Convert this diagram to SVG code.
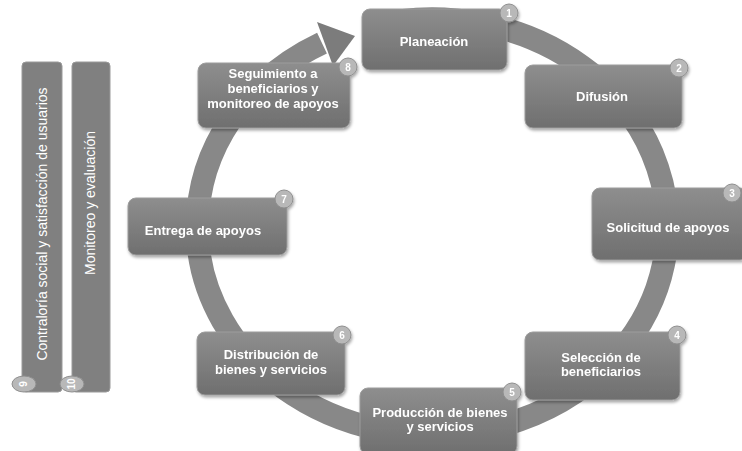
<svg xmlns="http://www.w3.org/2000/svg" width="742" height="451" viewBox="0 0 742 451">
<style>
.box{fill:url(#bg);stroke:#9c9c9c;stroke-width:1}
.t{font-family:"Liberation Sans",Arial,sans-serif;font-weight:bold;font-size:13px;fill:#ffffff;text-anchor:middle}
.ct{font-family:"Liberation Sans",Arial,sans-serif;font-size:14px;fill:#ffffff;text-anchor:middle}
.bd{fill:#b8b8b8;stroke:#8f8f8f;stroke-width:1}
.bt{font-family:"Liberation Sans",Arial,sans-serif;font-weight:bold;font-size:10px;fill:#ffffff;text-anchor:middle}
.col{fill:#808080;stroke:#9a9a9a;stroke-width:1}
</style>
<defs>
<linearGradient id="bg" x1="0" y1="0" x2="0" y2="1">
<stop offset="0" stop-color="#8e8e8e"/>
<stop offset="1" stop-color="#6f6f6f"/>
</linearGradient>
<filter id="sh" x="-10%" y="-10%" width="130%" height="140%">
<feDropShadow dx="1" dy="2" stdDeviation="1.5" flood-color="#000" flood-opacity="0.35"/>
</filter>
</defs>
<rect width="742" height="451" fill="#ffffff"/>

<g id="col-contraloria">
<rect class="col" x="22" y="62" width="40" height="330" rx="4"/>
<text class="ct" font-size="14.5" transform="translate(47,224) rotate(-90)">Contraloría social y satisfacción de usuarios</text>
<ellipse class="bd" cx="24" cy="384" rx="12" ry="8"/>
<text class="bt" font-size="8" transform="translate(27,384) rotate(-90)">9</text>
</g>
<g id="col-monitoreo">
<rect class="col" x="72" y="62" width="38" height="330" rx="4"/>
<text class="ct" font-size="13" transform="translate(95,203) rotate(-90)">Monitoreo y evaluación</text>
<ellipse class="bd" cx="72" cy="384" rx="12" ry="8"/>
<text class="bt" font-size="8" transform="translate(75,384) rotate(-90)">10</text>
</g>

<g id="connectors">
<path d="M370,26.3 A235,208 0 1 1 322,43.2" fill="none" stroke="#888888" stroke-width="23"/>
<polygon points="355,36 317,22 333,66" fill="#7c7c7c"/>
</g>

<g id="n1" filter="url(#sh)">
<rect class="box" x="362" y="9" width="145" height="61" rx="8"/>
<text class="t" x="434" y="46">Planeación</text>
<circle class="bd" cx="509" cy="13" r="9"/><text class="bt" x="509" y="17">1</text>
</g>
<g id="n2" filter="url(#sh)">
<rect class="box" x="525" y="65" width="157" height="63" rx="8"/>
<text class="t" x="602" y="101">Difusión</text>
<circle class="bd" cx="679" cy="68" r="9"/><text class="bt" x="679" y="72">2</text>
</g>
<g id="n3" filter="url(#sh)">
<rect class="box" x="592" y="188" width="156" height="72" rx="8"/>
<text class="t" x="668" y="232">Solicitud de apoyos</text>
<circle class="bd" cx="732" cy="193" r="9"/><text class="bt" x="732" y="197">3</text>
</g>
<g id="n4" filter="url(#sh)">
<rect class="box" x="525" y="332" width="155" height="68" rx="8"/>
<text class="t" x="601" y="362">Selección de</text>
<text class="t" x="601" y="376">beneficiarios</text>
<circle class="bd" cx="677" cy="335" r="9"/><text class="bt" x="677" y="339">4</text>
</g>
<g id="n5" filter="url(#sh)">
<rect class="box" x="360" y="388" width="157" height="66" rx="8"/>
<text class="t" x="440" y="417">Producción de bienes</text>
<text class="t" x="440" y="431">y servicios</text>
<circle class="bd" cx="512" cy="392" r="9"/><text class="bt" x="512" y="396">5</text>
</g>
<g id="n6" filter="url(#sh)">
<rect class="box" x="197" y="332" width="148" height="63" rx="8"/>
<text class="t" x="271" y="359">Distribución de</text>
<text class="t" x="271" y="374">bienes y servicios</text>
<circle class="bd" cx="342" cy="335" r="9"/><text class="bt" x="342" y="339">6</text>
</g>
<g id="n7" filter="url(#sh)">
<rect class="box" x="128" y="198" width="159" height="57" rx="8"/>
<text class="t" x="203" y="235">Entrega de apoyos</text>
<circle class="bd" cx="284" cy="199" r="9"/><text class="bt" x="284" y="203">7</text>
</g>
<g id="n8" filter="url(#sh)">
<rect class="box" x="198" y="63" width="152" height="65" rx="8"/>
<text class="t" x="273" y="78">Seguimiento a</text>
<text class="t" x="273" y="93">beneficiarios  y</text>
<text class="t" x="273" y="108">monitoreo de apoyos</text>
<circle class="bd" cx="348" cy="67" r="9"/><text class="bt" x="348" y="71">8</text>
</g>
</svg>
